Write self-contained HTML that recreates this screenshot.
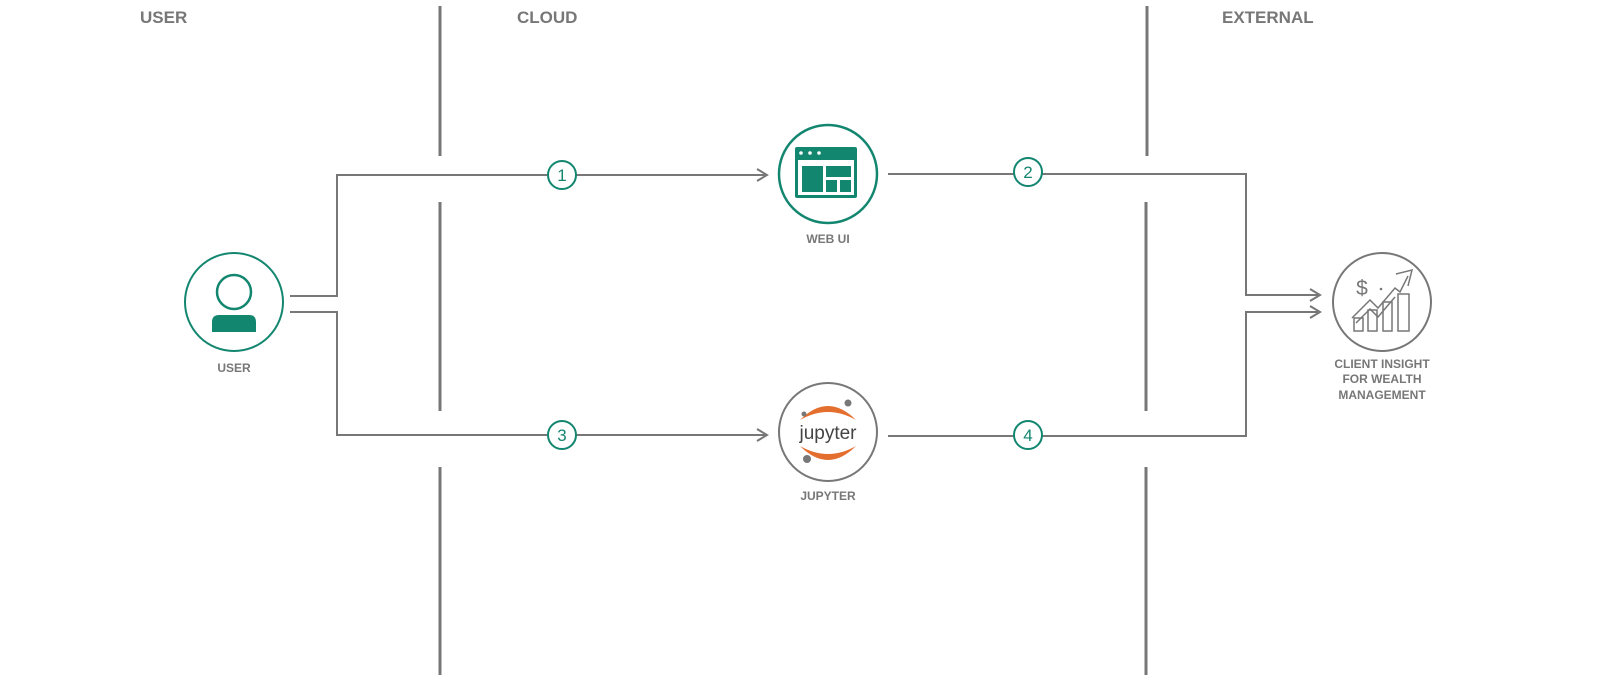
<!DOCTYPE html>
<html><head><meta charset="utf-8"><style>
html,body{margin:0;padding:0;background:#fff;width:1601px;height:697px;overflow:hidden}
text{font-family:"Liberation Sans",Arial,sans-serif;font-weight:bold}
</style></head><body>
<svg width="1601" height="697" viewBox="0 0 1601 697" xmlns="http://www.w3.org/2000/svg">
<g fill="#777" font-size="17">
<text x="140" y="23">USER</text>
<text x="517" y="23">CLOUD</text>
<text x="1222" y="23">EXTERNAL</text>
</g>
<g stroke="#777" stroke-width="3">
<line x1="440" y1="6" x2="440" y2="156"/>
<line x1="440" y1="202" x2="440" y2="411"/>
<line x1="440" y1="467" x2="440" y2="675"/>
<line x1="1147" y1="6" x2="1147" y2="156"/>
<line x1="1146" y1="202" x2="1146" y2="411"/>
<line x1="1146" y1="467" x2="1146" y2="675"/>
</g>
<g fill="none" stroke="#777" stroke-width="2">
<polyline points="290,296 337,296 337,175 767,175"/>
<polyline points="757,169 767,175 757,181"/>
<polyline points="290,312 337,312 337,435 767,435"/>
<polyline points="757,429 767,435 757,441"/>
<polyline points="888,174 1246,174 1246,295 1320,295"/>
<polyline points="1310,289 1320,295 1310,301"/>
<polyline points="888,436 1246,436 1246,312 1320,312"/>
<polyline points="1310,306 1320,312 1310,318"/>
</g>
<g fill="#fff" stroke="#138670" stroke-width="2">
<circle cx="562" cy="175" r="14"/>
<circle cx="562" cy="435" r="14"/>
<circle cx="1028" cy="172" r="14"/>
<circle cx="1028" cy="435" r="14"/>
</g>
<g fill="#138670" font-size="17" text-anchor="middle">
<text x="562" y="181" style="font-weight:normal">1</text>
<text x="562" y="441" style="font-weight:normal">3</text>
<text x="1028" y="178" style="font-weight:normal">2</text>
<text x="1028" y="441" style="font-weight:normal">4</text>
</g>
<circle cx="234" cy="302" r="49" fill="#fff" stroke="#138670" stroke-width="2"/>
<circle cx="234" cy="292" r="17" fill="none" stroke="#138670" stroke-width="2.5"/>
<path d="M212,332 V322 Q212,315 219,315 H249 Q256,315 256,322 V332 Z" fill="#138670"/>
<text x="234" y="372" fill="#777" font-size="12" text-anchor="middle">USER</text>
<circle cx="828" cy="174" r="49" fill="#fff" stroke="#138670" stroke-width="2.5"/>
<rect x="795" y="147" width="62" height="51" rx="2" fill="#138670"/>
<rect x="798" y="160" width="56" height="35" fill="#fff"/>
<rect x="802" y="166" width="21" height="26" fill="#138670"/>
<rect x="826" y="166" width="25" height="11" fill="#138670"/>
<rect x="826" y="180" width="11" height="12" fill="#138670"/>
<rect x="840" y="180" width="11" height="12" fill="#138670"/>
<g fill="#fff"><circle cx="801" cy="153" r="1.8"/><circle cx="810" cy="153" r="1.8"/><circle cx="819" cy="153" r="1.8"/></g>
<text x="828" y="243" fill="#777" font-size="12" text-anchor="middle">WEB UI</text>
<circle cx="828" cy="432" r="49" fill="#fff" stroke="#777" stroke-width="2"/>
<path d="M800,420 Q828,392 856,420 Q828,404 800,420 Z" fill="#e46e2e"/>
<path d="M800,446 Q828,474 856,446 Q828,462 800,446 Z" fill="#e46e2e"/>
<circle cx="804" cy="414" r="2.5" fill="#777"/>
<circle cx="848" cy="403" r="3.5" fill="#777"/>
<circle cx="807" cy="459" r="4" fill="#777"/>
<text x="828" y="439" fill="#444" font-size="19" text-anchor="middle" style="font-weight:normal">jupyter</text>
<text x="828" y="500" fill="#777" font-size="12" text-anchor="middle">JUPYTER</text>
<circle cx="1382" cy="302" r="49" fill="#fff" stroke="#777" stroke-width="2"/>
<g fill="none" stroke="#777" stroke-width="1.5">
<polyline points="1352,318 1370,300 1378,308 1395,288 1400,292 1408,276"/>
<polyline points="1356,323 1370,309 1378,317 1395,297"/>
<polyline points="1396,274 1412,270 1408,286"/>
<rect x="1354" y="318" width="9" height="13"/>
<rect x="1368" y="310" width="9" height="21"/>
<rect x="1383" y="302" width="9" height="29"/>
<rect x="1398" y="294" width="11" height="37"/>
</g>
<text x="1362" y="295" fill="#777" font-size="21" text-anchor="middle" style="font-weight:normal">$</text>
<circle cx="1381" cy="289" r="1.3" fill="#777"/>
<g fill="#777" font-size="12" text-anchor="middle">
<text x="1382" y="368">CLIENT INSIGHT</text>
<text x="1382" y="383">FOR WEALTH</text>
<text x="1382" y="399">MANAGEMENT</text>
</g>
</svg>
</body></html>
